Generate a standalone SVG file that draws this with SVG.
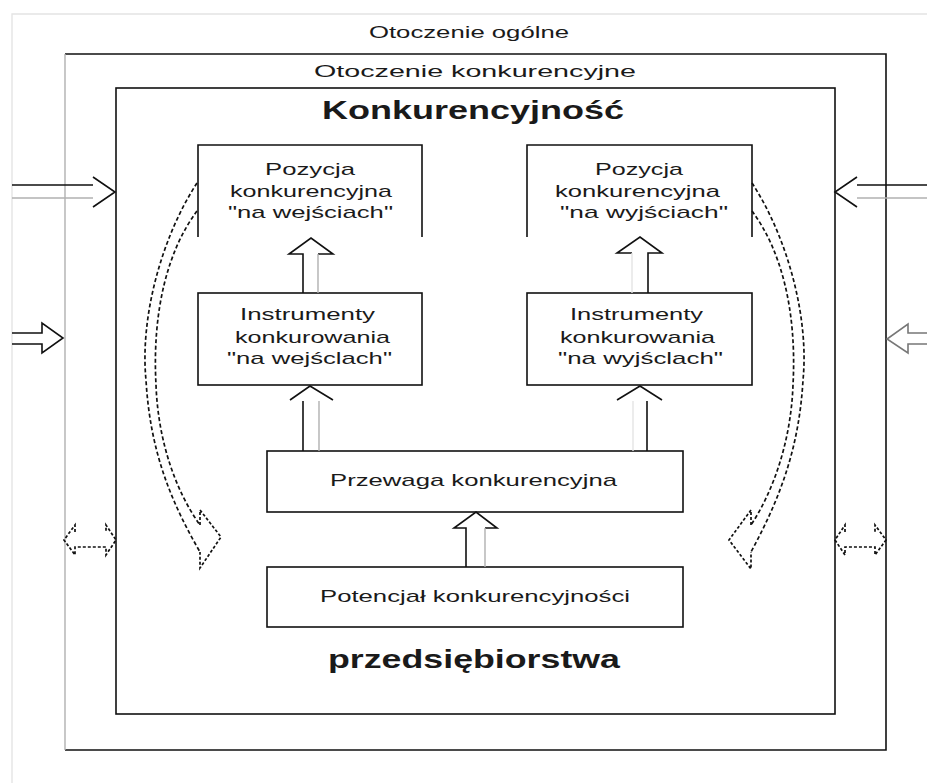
<svg xmlns="http://www.w3.org/2000/svg" width="927" height="783" viewBox="0 0 927 783">
<style>
.k{stroke:#111;stroke-width:1.6;fill:none}
.g{stroke:#b0b0b0;stroke-width:1.4;fill:none}
.f{stroke:#e4e4e4;stroke-width:1.4;fill:none}
.d{stroke:#111;stroke-width:1.7;fill:none;stroke-dasharray:4 2.5}
.box{stroke:#111;stroke-width:1.6;fill:#fff}
text{font-family:"Liberation Sans",Arial,sans-serif;fill:#1a1a1a;text-anchor:middle}
.t{font-size:17px}
.h{font-size:17px}
.b{font-size:25px;font-weight:bold}
</style>
<rect width="927" height="783" fill="#fff"/>

<g id="frame-ogolne">
  <path class="f" d="M12,783 V14 H927"/>
  <text class="h" x="469" y="38" textLength="200" lengthAdjust="spacingAndGlyphs">Otoczenie ogólne</text>
</g>

<g id="frame-konkurencyjne">
  <path class="k" d="M65,54 H886 V750 H65"/>
  <path class="g" d="M65,54 V750"/>
  <text class="h" x="475" y="77" textLength="322" lengthAdjust="spacingAndGlyphs">Otoczenie konkurencyjne</text>
</g>

<g id="frame-przedsiebiorstwo">
  <rect class="k" x="116" y="88" width="719" height="626"/>
  <text class="b" x="473" y="119" textLength="302" lengthAdjust="spacingAndGlyphs">Konkurencyjność</text>
  <text class="b" x="474" y="668" textLength="292" lengthAdjust="spacingAndGlyphs">przedsiębiorstwa</text>
</g>

<g id="node-pozycja-we">
  <path class="k" d="M198,237 V145 H422 V237"/>
  <text class="t" x="310" y="175" textLength="90" lengthAdjust="spacingAndGlyphs">Pozycja</text>
  <text class="t" x="311" y="197" textLength="162" lengthAdjust="spacingAndGlyphs">konkurencyjna</text>
  <text class="t" x="310.5" y="218" textLength="165" lengthAdjust="spacingAndGlyphs">"na wejściach"</text>
</g>

<g id="node-pozycja-wy">
  <path class="k" d="M527,237 V145 H752 V237"/>
  <text class="t" x="639" y="175" textLength="88" lengthAdjust="spacingAndGlyphs">Pozycja</text>
  <text class="t" x="637.5" y="197" textLength="165" lengthAdjust="spacingAndGlyphs">konkurencyjna</text>
  <text class="t" x="644" y="218" textLength="168" lengthAdjust="spacingAndGlyphs">"na wyjściach"</text>
</g>

<g id="node-instrumenty-we">
  <rect class="box" x="198" y="293" width="224" height="92"/>
  <text class="t" x="307.5" y="320" textLength="135" lengthAdjust="spacingAndGlyphs">Instrumenty</text>
  <text class="t" x="312.5" y="343" textLength="155" lengthAdjust="spacingAndGlyphs">konkurowania</text>
  <text class="t" x="309.5" y="364" textLength="165" lengthAdjust="spacingAndGlyphs">"na wejśclach"</text>
</g>

<g id="node-instrumenty-wy">
  <rect class="box" x="527" y="293" width="225" height="92"/>
  <text class="t" x="636.5" y="320" textLength="133" lengthAdjust="spacingAndGlyphs">Instrumenty</text>
  <text class="t" x="637.5" y="343" textLength="155" lengthAdjust="spacingAndGlyphs">konkurowania</text>
  <text class="t" x="640.5" y="364" textLength="165" lengthAdjust="spacingAndGlyphs">"na wyjśclach"</text>
</g>

<g id="node-przewaga">
  <rect class="box" x="267" y="451" width="416" height="61"/>
  <text class="t" x="473.5" y="486" textLength="287" lengthAdjust="spacingAndGlyphs">Przewaga konkurencyjna</text>
</g>

<g id="node-potencjal">
  <rect class="box" x="267" y="567" width="416" height="60"/>
  <text class="t" x="475" y="602" textLength="310" lengthAdjust="spacingAndGlyphs">Potencjał konkurencyjności</text>
</g>

<g id="connectors">
  <!-- Potencjał -> Przewaga -->
  <path class="k" d="M466,567 V528 H454 L476,512 L497,528 H485"/>
  <path class="g" d="M485,528 V567"/>
  <!-- Przewaga -> Instrumenty (left) -->
  <path class="k" d="M303,451 V401"/>
  <path class="g" d="M319,451 V401"/>
  <path class="k" d="M290,400 L310,386 L333,400"/>
  <!-- Przewaga -> Instrumenty (right) -->
  <path class="f" d="M633,451 V401"/>
  <path class="k" d="M647,451 V401"/>
  <path class="k" d="M617,400 L640,386 L662,400"/>
  <!-- Instrumenty -> Pozycja (left) -->
  <path class="k" d="M303,293 V254 H289 L311,238 L333,254 H318"/>
  <path class="g" d="M318,254 V293"/>
  <!-- Instrumenty -> Pozycja (right) -->
  <path class="k" d="M648,293 V253 H662 L640,237 L617,253 H632"/>
  <path class="f" d="M632,253 V293"/>

  <!-- environment arrows, left -->
  <path class="k" d="M12,185 H93 M93,177 L115,192 L93,207"/>
  <path class="g" d="M12,198 H93"/>
  <path class="k" d="M12,333 H42 V323 L63,338 L42,353 V344 H12"/>
  <!-- environment arrows, right -->
  <path class="k" d="M927,185 H857 M857,177 L835,192 L857,207"/>
  <path class="g" d="M927,198 H857"/>
  <path class="k" d="M927,333 H908 V324 L887,339 L908,353 V344 H927" style="stroke:#777"/>

  <!-- double arrows -->
  <path class="d" d="M75,532 V525 L64,540 L75,555 V547 H106 V555 L116,540 L106,525 V532" style="stroke-dasharray:3 2"/>
  <path class="d" d="M845,532 V525 L835,540 L845,555 V547 H875 V555 L886,540 L875,525 V532" style="stroke-dasharray:3 2"/>

  <!-- curved feedback arrow, left -->
  <path class="d" d="M197,183 C160,240 140,320 146,380 C150,450 170,500 200,552"/>
  <path class="d" d="M197,211 C168,250 152,310 156,385 C158,440 175,490 200,525"/>
  <path class="d" d="M200,525 V510 L221,537 L200,568 V552" style="stroke-dasharray:3 2"/>
  <!-- curved feedback arrow, right -->
  <path class="d" d="M752,183 C789,240 809,320 803,380 C799,450 779,500 751,552"/>
  <path class="d" d="M752,211 C781,250 797,310 793,385 C791,440 774,490 751,525"/>
  <path class="d" d="M751,525 V510 L729,540 L751,569 V552" style="stroke-dasharray:3 2"/>
</g>
</svg>
